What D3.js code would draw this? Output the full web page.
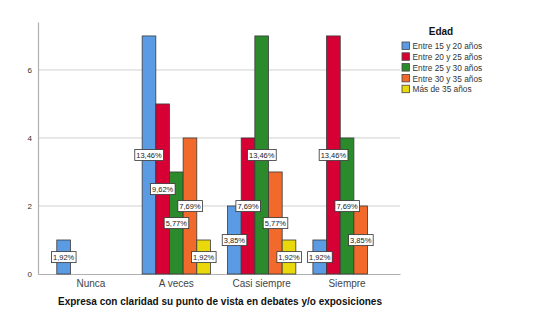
<!DOCTYPE html>
<html>
<head>
<meta charset="utf-8">
<script src="https://cdn.jsdelivr.net/npm/d3@7/dist/d3.min.js"></script>
<style>
  body { margin: 0; background: #fff; }
  text { font-family: Arial, "Liberation Sans", sans-serif; }
</style>
</head>
<body>
<div id="chart"></div>
<script>
var categories = ["Nunca", "A veces", "Casi siempre", "Siempre"];
var groups = ["Entre 15 y 20 años", "Entre 20 y 25 años", "Entre 25 y 30 años", "Entre 30 y 35 años", "Más de 35 años"];
var colors = ["#5b9be4", "#d70035", "#2b8a2b", "#f26a2b", "#e8d80c"];

// counts per group, in category order
var edad15_20 = [1, 7, 2, 1];
var edad20_25 = [0, 5, 4, 7];
var edad25_30 = [0, 3, 7, 4];
var edad30_35 = [0, 4, 3, 2];
var edad35mas = [0, 1, 1, 0];

var pct15_20 = ["1,92%", "13,46%", "3,85%", "1,92%"];
var pct20_25 = ["", "9,62%", "7,69%", "13,46%"];
var pct25_30 = ["", "5,77%", "13,46%", "7,69%"];
var pct30_35 = ["", "7,69%", "5,77%", "3,85%"];
var pct35mas = ["", "1,92%", "1,92%", ""];

var yTicks = [0, 2, 4, 6];

var series = [edad15_20, edad20_25, edad25_30, edad30_35, edad35mas];
var labels = [pct15_20, pct20_25, pct25_30, pct30_35, pct35mas];

var size = {
  width: 535,
  height: 319,
  left: 38,
  right: 400,
  top: 22,
  bottom: 274
};

var svg = d3.select("#chart")
  .append("svg")
  .attr("width", size.width)
  .attr("height", size.height);

var xScale = d3.scaleBand()
  .domain(categories)
  .range([size.left, size.right])
  .paddingInner(0.2)
  .paddingOuter(0.22);

var xInner = d3.scaleBand()
  .domain(d3.range(groups.length))
  .range([0, xScale.bandwidth()]);

var yScale = d3.scaleLinear()
  .domain([0, 7.41])
  .range([size.bottom, size.top]);

// gridlines
svg.append("g")
  .selectAll("line")
  .data(yTicks.filter(function(d){ return d > 0; }))
  .enter()
  .append("line")
  .attr("x1", size.left)
  .attr("x2", size.right)
  .attr("y1", function(d){ return yScale(d); })
  .attr("y2", function(d){ return yScale(d); })
  .attr("stroke", "#d0d0d0")
  .attr("stroke-width", 1);

// y axis
var yAxis = d3.axisLeft(yScale).tickValues(yTicks).tickSize(0).tickPadding(6);
var yG = svg.append("g")
  .attr("transform", "translate(" + size.left + ",0)")
  .call(yAxis);
yG.select(".domain").attr("stroke", "#b0b0b0").attr("stroke-width", 1.2);
yG.selectAll("text").attr("font-size", 8).attr("fill", "#333");

// x axis
var xAxis = d3.axisBottom(xScale).tickSize(0).tickPadding(6);
var xG = svg.append("g")
  .attr("transform", "translate(0," + size.bottom + ")")
  .call(xAxis);
xG.select(".domain").attr("stroke", "#b0b0b0").attr("stroke-width", 1.2);
xG.selectAll("text").attr("font-size", 10).attr("fill", "#444");

// bars
var barData = [];
series.forEach(function(s, gi){
  s.forEach(function(v, ci){
    barData.push({ cat: categories[ci], group: gi, value: v, label: labels[gi][ci] });
  });
});

var bar = svg.selectAll("g.bar")
  .data(barData.filter(function(d){ return d.value > 0; }))
  .enter()
  .append("g")
  .attr("class", "bar");

bar.append("rect")
  .attr("x", function(d){ return xScale(d.cat) + xInner(d.group); })
  .attr("y", function(d){ return yScale(d.value); })
  .attr("width", xInner.bandwidth())
  .attr("height", function(d){ return size.bottom - yScale(d.value); })
  .attr("fill", function(d){ return colors[d.group]; })
  .attr("stroke", "#3a3a3a")
  .attr("stroke-width", 0.8);

// value labels
var lab = svg.selectAll("g.lab")
  .data(barData.filter(function(d){ return d.value > 0 && d.label; }))
  .enter()
  .append("g")
  .attr("class", "lab")
  .attr("transform", function(d){
    var cx = xScale(d.cat) + xInner(d.group) + xInner.bandwidth() / 2;
    var cy = (yScale(d.value) + size.bottom) / 2;
    return "translate(" + cx + "," + cy + ")";
  });

lab.append("text")
  .text(function(d){ return d.label; })
  .attr("text-anchor", "middle")
  .attr("dy", "0.35em")
  .attr("font-size", 7.5)
  .attr("fill", "#222");

lab.each(function(){
  var g = d3.select(this);
  var bb = g.select("text").node().getBBox();
  g.insert("rect", "text")
    .attr("x", bb.x - 1.5)
    .attr("y", bb.y - 1)
    .attr("width", bb.width + 3)
    .attr("height", bb.height + 2)
    .attr("fill", "#fff")
    .attr("stroke", "#333")
    .attr("stroke-width", 0.8);
});

// axis title
svg.append("text")
  .attr("x", 220)
  .attr("y", 305)
  .attr("text-anchor", "middle")
  .attr("font-size", 10)
  .attr("font-weight", "bold")
  .attr("fill", "#111")
  .text("Expresa con claridad su punto de vista en debates y/o exposiciones");

// legend
svg.append("text")
  .attr("x", 441)
  .attr("y", 35)
  .attr("text-anchor", "middle")
  .attr("font-size", 10)
  .attr("font-weight", "bold")
  .attr("fill", "#111")
  .text("Edad");

var leg = svg.selectAll("g.leg")
  .data(groups)
  .enter()
  .append("g")
  .attr("class", "leg")
  .attr("transform", function(d, i){ return "translate(402," + (42 + i * 10.8) + ")"; });

leg.append("rect")
  .attr("width", 7.5)
  .attr("height", 7.5)
  .attr("fill", function(d, i){ return colors[i]; })
  .attr("stroke", "#444")
  .attr("stroke-width", 0.8);

leg.append("text")
  .attr("x", 10.5)
  .attr("y", 7.2)
  .attr("font-size", 8.3)
  .attr("fill", "#333")
  .text(function(d){ return d; });
</script>
</body>
</html>
